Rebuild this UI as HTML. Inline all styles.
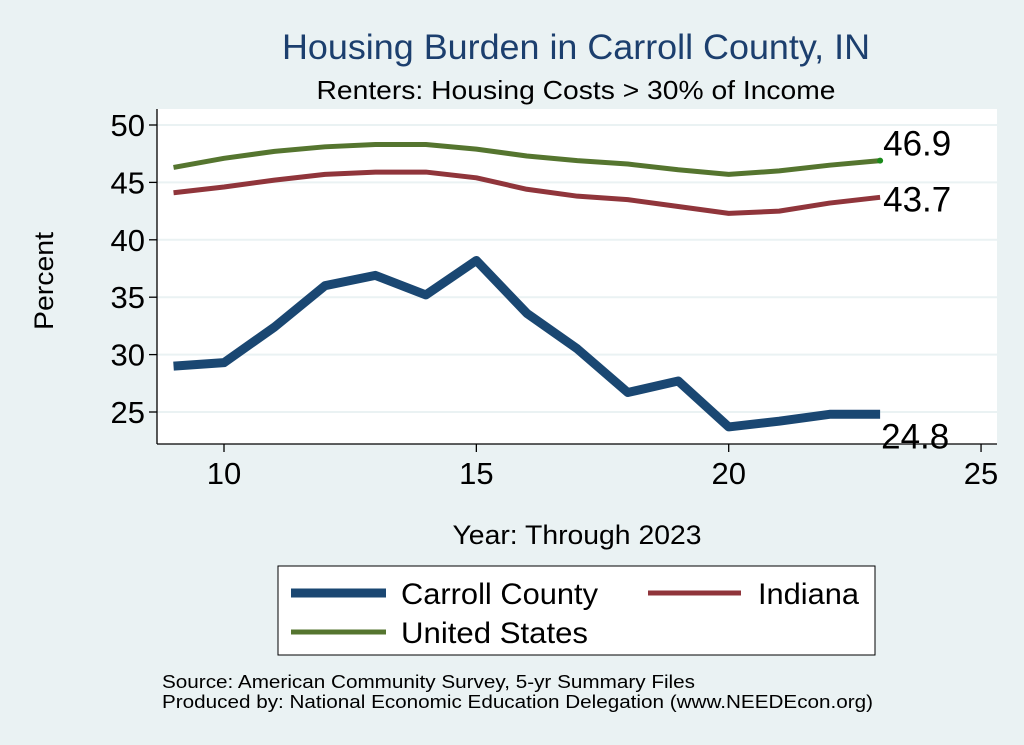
<!DOCTYPE html>
<html><head><meta charset="utf-8"><style>
body{margin:0;background:#eaf2f3;}
svg{display:block;font-family:"Liberation Sans",Arial,sans-serif;}
</style></head><body>
<svg id="chart" width="1024" height="745" viewBox="0 0 1024 745">
<rect x="0" y="0" width="1024" height="745" fill="#eaf2f3"/>
<text x="576" y="59" font-size="35" fill="#1c3f6e" text-anchor="middle" textLength="588" lengthAdjust="spacingAndGlyphs">Housing Burden in Carroll County, IN</text>
<text x="576" y="99" font-size="26" fill="#000" text-anchor="middle" textLength="519" lengthAdjust="spacingAndGlyphs">Renters: Housing Costs &gt; 30% of Income</text>
<rect x="157" y="109" width="840" height="335" fill="#fff"/>
<g id="grid"></g>
<g id="axes"></g>
<g id="series"></g>
<text x="53" y="281" font-size="27" text-anchor="middle" transform="rotate(-90 53 281)" textLength="98" lengthAdjust="spacingAndGlyphs">Percent</text>
<text x="577" y="544" font-size="27" text-anchor="middle" textLength="249" lengthAdjust="spacingAndGlyphs">Year: Through 2023</text>
<g>
<rect x="278" y="566" width="597" height="89" fill="#fff" stroke="#000" stroke-width="1"/>
<line x1="291" y1="593" x2="386" y2="593" stroke="#1a4772" stroke-width="9"/>
<text x="401" y="604" font-size="30" textLength="197" lengthAdjust="spacingAndGlyphs">Carroll County</text>
<line x1="648" y1="593" x2="741" y2="593" stroke="#90353b" stroke-width="5"/>
<text x="758" y="604" font-size="30" textLength="101" lengthAdjust="spacingAndGlyphs">Indiana</text>
<line x1="291" y1="632" x2="386" y2="632" stroke="#55752f" stroke-width="5"/>
<text x="401" y="643" font-size="30" textLength="187" lengthAdjust="spacingAndGlyphs">United States</text>
</g>
<text x="162" y="688" font-size="18" textLength="533" lengthAdjust="spacingAndGlyphs">Source: American Community Survey, 5-yr Summary Files</text>
<text x="162" y="708" font-size="18" textLength="711" lengthAdjust="spacingAndGlyphs">Produced by: National Economic Education Delegation (www.NEEDEcon.org)</text>
</svg>
<script>
const years = [9,10,11,12,13,14,15,16,17,18,19,20,21,22,23];
const carroll = [29.0,29.3,32.4,36.0,36.9,35.2,38.2,33.6,30.5,26.7,27.7,23.7,24.2,24.8,24.8];
const indiana = [44.1,44.6,45.2,45.7,45.9,45.9,45.4,44.4,43.8,43.5,42.9,42.3,42.5,43.2,43.7];
const us = [46.3,47.1,47.7,48.1,48.3,48.3,47.9,47.3,46.9,46.6,46.1,45.7,46.0,46.5,46.9];
const yTicks = [25,30,35,40,45,50];
const xTicks = [10,15,20,25];
const NS = "http://www.w3.org/2000/svg";
function X(v){return 224 + (v-10)*50.47;}
function Y(v){return 125 + (50-v)*(412-125)/25;}
function mk(tag, attrs, parent){const e=document.createElementNS(NS,tag);for(const k in attrs)e.setAttribute(k,attrs[k]);parent.appendChild(e);return e;}
const grid=document.getElementById('grid'), axes=document.getElementById('axes'), ser=document.getElementById('series');
yTicks.forEach(t=>{
  const g=mk('line',{x1:157,x2:997,y1:Y(t),y2:Y(t),stroke:'#eaf2f3','stroke-width':2},grid);
  
  
  const tk=mk('line',{x1:149,x2:157,y1:Y(t),y2:Y(t),stroke:'#000','stroke-width':1.3},axes);
  
  
  const tx=mk('text',{x:145,y:Y(t)+11,'font-size':31,'text-anchor':'end'},axes);
  tx.textContent=t;
  
  
});
xTicks.forEach(t=>{
  const tk=mk('line',{x1:X(t),x2:X(t),y1:444,y2:452,stroke:'#000','stroke-width':1.3},axes);
  
  
  const tx=mk('text',{x:X(t),y:484,'font-size':31,'text-anchor':'middle'},axes);
  tx.textContent=t;
  
  
});
const ya=mk('line',{x1:157,x2:157,y1:109,y2:444,stroke:'#000','stroke-width':1.3},axes);


const xa=mk('line',{x1:157,x2:997,y1:444,y2:444,stroke:'#000','stroke-width':1.3},axes);


function line(vals,color,w,name){
  const p=mk('polyline',{points:years.map((y,i)=>X(y)+','+Y(vals[i])).join(' '),fill:'none',stroke:color,'stroke-width':w,'stroke-linejoin':'round','stroke-linecap':'butt'},ser);
  
  
}
line(us,'#55752f',5,'line-united-states');
line(indiana,'#90353b',5,'line-indiana');
line(carroll,'#1a4772',9,'line-carroll-county');
const n=years.length-1;
const dot=mk('circle',{cx:X(years[n]),cy:Y(us[n]),r:3,fill:'#1a8a1a'},ser);


[[us,-5,'label-us-end'],[indiana,14,'label-indiana-end'],[carroll,34,'label-carroll-end']].forEach(([v,dy,nm])=>{
  const t=mk('text',{x:X(years[n])+(nm==='label-carroll-end'?1:3),y:Y(v[n])+dy,'font-size':35},ser);
  t.textContent=v[n].toFixed(1);
  
  
});
</script>
</body></html>
